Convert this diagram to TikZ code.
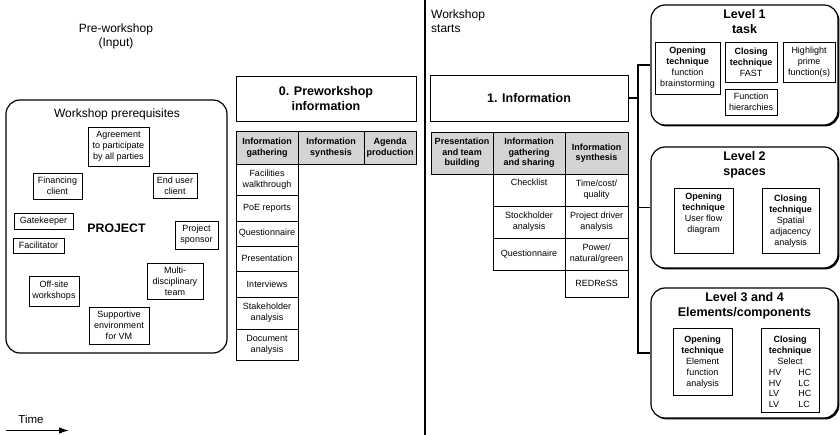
\documentclass[tikz,border=0pt]{standalone}
\usepackage{fontspec}
\setmainfont{Liberation Sans}
\usetikzlibrary{shadows,arrows.meta}

\newcommand{\fsz}[2]{\fontsize{#1}{#2}\selectfont}

\begin{document}
\begin{tikzpicture}[x=1pt,y=-1pt,
  wh/.style 2 args={minimum width=#1pt, minimum height=#2pt},
  cell/.style={draw, line width=0.8pt, align=center, inner sep=1pt,
    fill=white, font=\fsz{9}{11}},
  hcell/.style={cell, fill=black!17, font=\fsz{9}{10.5}\bfseries},
  item/.style={draw, line width=0.8pt, align=center, inner sep=1pt,
    font=\fsz{9}{11}},
  toplab/.style={anchor=north, align=center, inner sep=0pt,
    font=\fsz{9}{10.8}, yshift=-#1pt},
  lvltitle/.style={anchor=north, align=center, inner sep=0pt,
    font=\fsz{12.5}{15}\bfseries, yshift=-5pt},
  level/.style={draw, line width=1.2pt, rounded corners=14pt, fill=white,
    drop shadow={shadow xshift=1.4pt, shadow yshift=-1.4pt,
      fill=black, opacity=1}},
  link/.style={line width=1.4pt},
  heading/.style={font=\fsz{12}{14}, align=center}
]
\useasboundingbox (0,0) rectangle (840,435);

% ---------- headings and phase divider ----------
\node[heading] (prehead) at (116,36) {Pre-workshop\\(Input)};
\node[heading, align=left, anchor=west, inner sep=0pt] (starthead) at (431,21) {Workshop\\starts};
\draw[line width=1.5pt] (425,0) -- (425,435);

% ---------- workshop prerequisites ----------
\node[draw, line width=1.2pt, rounded corners=14pt, wh={221}{253}] (prereq) at (116.5,226.5) {};
\node[font=\fsz{12}{14}] (prereqtitle) at (117,114) {Workshop prerequisites};
\node[font=\fsz{12.3}{14}\bfseries] (project) at (116.5,228) {PROJECT};

\node[item, wh={61}{39}] (agree) at (118.5,146.5) {Agreement\\to participate\\by all parties};
\node[item, wh={49}{26}] (fin) at (57.5,186) {Financing\\client};
\node[item, wh={44}{25}] (enduser) at (175,185.5) {End user\\client};
\node[item, wh={59}{16}] (gate) at (43.5,221) {Gatekeeper};
\node[item, wh={43}{28}] (sponsor) at (196.5,235) {Project\\sponsor};
\node[item, wh={51}{15}] (facil) at (38.5,245.5) {Facilitator};
\node[item, wh={56}{36}] (multi) at (175,281) {Multi-\\disciplinary\\team};
\node[item, wh={50}{30}] (offsite) at (54,291) {Off-site\\workshops};
\node[item, wh={60}{37}] (support) at (119,325.5) {Supportive\\environment\\for VM};

% ---------- 0. preworkshop information ----------
\node[cell, wh={180}{45}, font=\fsz{12.5}{15}\bfseries] (preinfo) at (326,98.5) {0. Preworkshop\\information};

\node[hcell, wh={62}{33}] (pgather) at (267,147.5) {Information\\gathering};
\node[hcell, wh={66}{33}] (psynth) at (331,147.5) {Information\\synthesis};
\node[hcell, wh={52}{33}] (pagenda) at (390,147.5) {Agenda\\production};

\node[cell, wh={62}{31}] (pfac) at (267,179.5) {Facilities\\walkthrough};
\node[cell, wh={62}{26}] (ppoe) at (267,208) {PoE reports};
\node[cell, wh={62}{25}] (pquest) at (267,233.5) {Questionnaire};
\node[cell, wh={62}{25}] (ppres) at (267,258.5) {Presentation};
\node[cell, wh={62}{26}] (pint) at (267,284) {Interviews};
\node[cell, wh={62}{32}] (pstake) at (267,313) {Stakeholder\\analysis};
\node[cell, wh={62}{31}] (pdoc) at (267,344.5) {Document\\analysis};

% ---------- 1. information ----------
\node[cell, wh={198}{46}, font=\fsz{12.5}{15}\bfseries] (info) at (529,98) {1. Information};

\node[hcell, wh={62}{42}] (ipres) at (462,153) {Presentation\\and team\\building};
\node[hcell, wh={72}{42}] (igather) at (529,153) {Information\\gathering\\and sharing};
\node[hcell, wh={63}{42}] (isynth) at (596.5,153) {Information\\synthesis};

\node[cell, wh={72}{32}, label={[toplab=5]north:Checklist}] (icheck) at (529,190) {};
\node[cell, wh={72}{32}] (istock) at (529,222) {Stockholder\\analysis};
\node[cell, wh={72}{32}] (iquest) at (529,254) {Questionnaire};

\node[cell, wh={63}{32}] (itime) at (596.5,190) {Time/cost/\\quality};
\node[cell, wh={63}{32}] (idriver) at (596.5,222) {Project driver\\analysis};
\node[cell, wh={63}{32}] (ipower) at (596.5,254) {Power/\\natural/green};
\node[cell, wh={63}{27}] (iredress) at (596.5,283.5) {REDReSS};

% ---------- levels ----------
\node[level, wh={187}{120}, label={[lvltitle]north:Level 1\\task}] (L1) at (744.5,65) {};
\node[level, wh={187}{121}, label={[lvltitle]north:Level 2\\spaces}] (L2) at (744.5,207.5) {};
\node[level, wh={187}{130}, label={[lvltitle]north:Level 3 and 4\\Elements/components}] (L3) at (744.5,353) {};

% level 1 techniques
\node[item, wh={65}{52}] (l1open) at (687.5,68) {\textbf{Opening}\\\textbf{technique}\\function\\brainstorming};
\node[item, wh={52}{40}] (l1close) at (751,62) {\textbf{Closing}\\\textbf{technique}\\FAST};
\node[item, wh={52}{40}] (l1prime) at (809,62) {Highlight\\prime\\function(s)};
\node[item, wh={52}{26}] (l1hier) at (751,102) {Function\\hierarchies};

% level 2 techniques
\node[item, wh={59}{65}, label={[toplab=5.6]north:{\textbf{Opening}\\\textbf{technique}\\User flow\\diagram}}] (l2open) at (703.5,220.5) {};
\node[item, wh={57}{65}, label={[toplab=7.6]north:{\textbf{Closing}\\\textbf{technique}\\Spatial\\adjacency\\analysis}}] (l2close) at (790.5,220.5) {};

% level 3 and 4 techniques
\node[item, wh={59}{67}, label={[toplab=8.5]north:{\textbf{Opening}\\\textbf{technique}\\Element\\function\\analysis}}] (l3open) at (702.5,361.5) {};
\node[item, wh={58}{84}, label={[toplab=8.5]north:{\textbf{Closing}\\\textbf{technique}\\Select\\\begin{tabular}[t]{@{}l@{\hspace{17pt}}l@{}}HV & HC\\HV & LC\\LV & HC\\LV & LC\end{tabular}}}] (l3close) at (790,370) {};

% ---------- connectors from 1. Information to the levels ----------
\coordinate (spine) at (638,0);
\draw[link] (info.east) -- (info.east -| spine);
\draw[link] (L1.west) -- (L1.west -| spine) -- (L3.west -| spine) -- (L3.west);
\draw[link] (L2.west -| spine) -- (L2.west);

% ---------- time arrow ----------
\coordinate (t0) at (6,430.5);
\coordinate (t1) at (69,430.5);
\draw[line width=1.3pt, -{Latex[length=10pt,width=6.5pt]}] (t0) -- (t1);
\node[font=\fsz{11.5}{13}] (timelab) at (31,419) {Time};
\end{tikzpicture}
\end{document}
